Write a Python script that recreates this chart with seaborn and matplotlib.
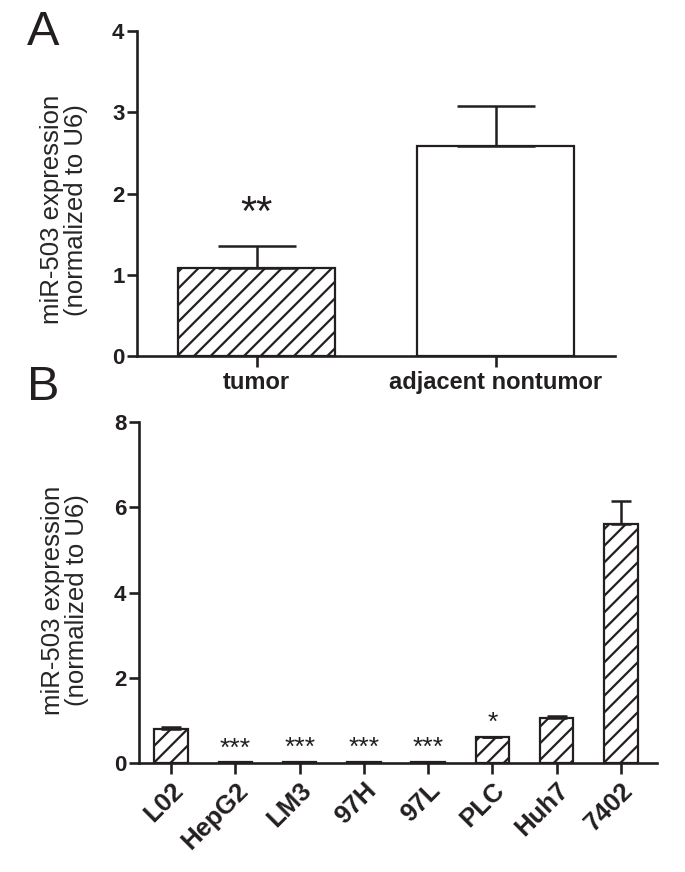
import numpy as np
import matplotlib
matplotlib.use("Agg")
import matplotlib.pyplot as plt
import seaborn as sns

# --- data ---
groups_a = ["tumor", "adjacent nontumor"]
expr_a = [1.08, 2.58]
err_a = [0.275, 0.50]
stars_a = ["**", ""]

cells_b = ["L02", "HepG2", "LM3", "97H", "97L", "PLC", "Huh7", "7402"]
expr_b = [0.80, 0.02, 0.03, 0.03, 0.03, 0.60, 1.06, 5.61]
err_b = [0.05, 0.005, 0.005, 0.005, 0.005, 0.02, 0.05, 0.54]
stars_b = ["", "***", "***", "***", "***", "*", "", ""]

ink = "#231f20"
ylabel = "miR-503 expression\n(normalized to U6)"

sns.set_style("ticks")
plt.rcParams["font.family"] = ["Liberation Sans", "DejaVu Sans"]
plt.rcParams["hatch.linewidth"] = 1.6
plt.rcParams["hatch.color"] = ink
plt.rcParams["text.color"] = ink
plt.rcParams["axes.edgecolor"] = ink
plt.rcParams["xtick.color"] = ink
plt.rcParams["ytick.color"] = ink

fig = plt.figure(figsize=(6.85, 8.72), dpi=100)
ax_a = fig.add_axes([0.200, 0.5917, 0.698, 0.3727])
ax_b = fig.add_axes([0.2029, 0.125, 0.7562, 0.391])


def style_axis(ax):
    sns.despine(ax=ax)
    for side in ("left", "bottom"):
        ax.spines[side].set_linewidth(1.9)
        ax.spines[side].set_color(ink)
    ax.tick_params(axis="both", width=1.9, length=7, direction="out", color=ink)
    ax.tick_params(axis="y", pad=2, labelsize=16)
    for lab in ax.get_yticklabels():
        lab.set_fontweight("bold")
    ax.set_xlabel("")


# --- panel A ---
sns.barplot(x=groups_a, y=expr_a, width=0.66, color="white", saturation=1,
            edgecolor=ink, linewidth=1.6, errorbar=None, ax=ax_a)
for patch, h in zip(ax_a.patches, ["//", ""]):
    patch.set_hatch(h)
pos_a = np.arange(len(groups_a))
ax_a.errorbar(pos_a, expr_a, yerr=[np.zeros(len(err_a)), err_a], fmt="none",
              ecolor=ink, elinewidth=1.8, capsize=28, capthick=1.8)
for i, s in enumerate(stars_a):
    if s:
        ax_a.annotate(s, xy=(i, expr_a[i] + err_a[i]), xytext=(0, 15),
                      textcoords="offset points", ha="center", va="baseline",
                      fontsize=30)
ax_a.set_ylim(0, 4)
ax_a.set_yticks([0, 1, 2, 3, 4])
ax_a.set_xlim(-0.5, 1.5)
style_axis(ax_a)
ax_a.tick_params(axis="x", labelsize=17, length=8, pad=3)
for lab in ax_a.get_xticklabels():
    lab.set_fontweight("bold")
ax_a.set_ylabel(ylabel, fontsize=18.5, linespacing=1.0)
ax_a.yaxis.set_label_coords(-0.102, 0.45)

# --- panel B ---
sns.barplot(x=cells_b, y=expr_b, width=0.52, color="white", saturation=1,
            edgecolor=ink, linewidth=1.6, hatch="//", errorbar=None, ax=ax_b)
pos_b = np.arange(len(cells_b))
ax_b.errorbar(pos_b, expr_b, yerr=[np.zeros(len(err_b)), err_b], fmt="none",
              ecolor=ink, elinewidth=1.8, capsize=7, capthick=1.8)
for i, s in enumerate(stars_b):
    if s:
        ax_b.annotate(s, xy=(i, expr_b[i] + err_b[i]), xytext=(0, 4.5),
                      textcoords="offset points", ha="center", va="baseline",
                      fontsize=19)
ax_b.set_ylim(0, 8)
ax_b.set_yticks([0, 2, 4, 6, 8])
ax_b.set_xlim(-0.5, 7.56)
style_axis(ax_b)
ax_b.tick_params(axis="x", labelsize=18.5, length=8, pad=3)
for lab in ax_b.get_xticklabels():
    lab.set_fontweight("bold")
    lab.set_rotation(45)
    lab.set_ha("right")
    lab.set_va("top")
    lab.set_rotation_mode("anchor")
ax_b.set_ylabel(ylabel, fontsize=18.5, linespacing=1.0)
ax_b.yaxis.set_label_coords(-0.096, 0.478)

# panel letters
fig.text(0.040, 0.948, "A", fontsize=35, ha="left", va="baseline")
fig.text(0.040, 0.541, "B", fontsize=35, ha="left", va="baseline")

fig.savefig("out.png", dpi=100)
